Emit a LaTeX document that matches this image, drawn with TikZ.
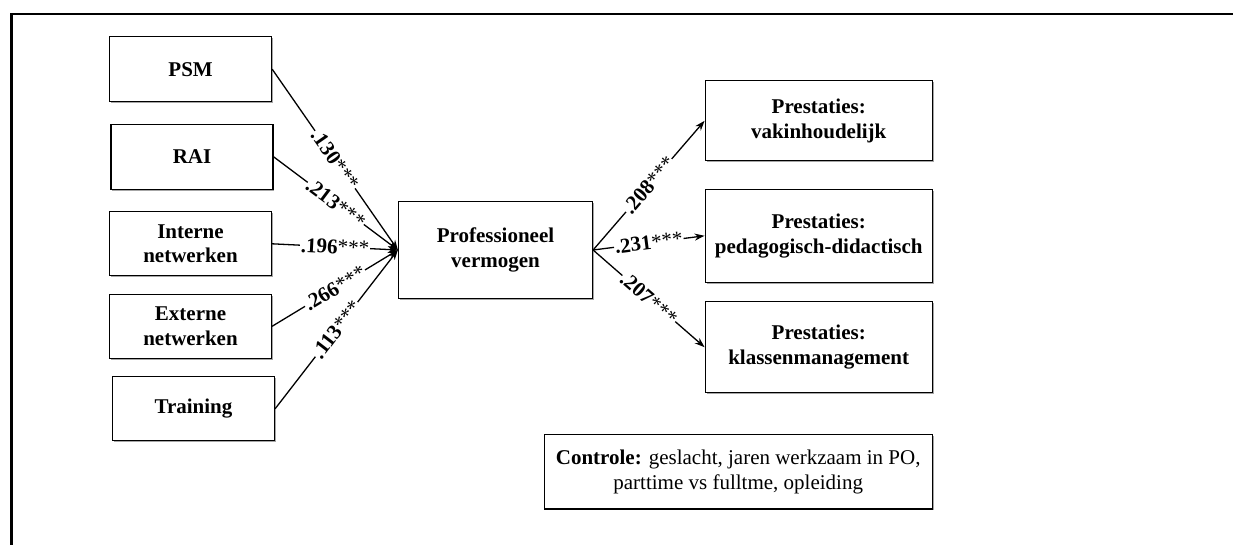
\documentclass[tikz,border=0pt]{standalone}
\usepackage{fontspec}
\setmainfont{Liberation Serif}
\usetikzlibrary{arrows.meta,shadows}

\tikzset{
  varbox/.style={draw=black, line width=1.2pt, fill=white, align=center,
    inner sep=2pt, font=\bfseries\fontsize{21}{24.5}\selectfont,
    drop shadow={shadow xshift=1.4pt, shadow yshift=-1.4pt, fill=black!35, opacity=1}},
  path/.style={draw=black, line width=1.3pt, -{Stealth[length=10pt,width=7pt]}},
  coef/.style={sloped, pos=0.5, fill=white, inner sep=0.8pt,
    font=\fontsize{21}{24}\selectfont},
}
\newcommand{\cf}[1]{\textbf{#1}***}

\begin{document}
\begin{tikzpicture}[x=1pt, y=-1pt]
  \useasboundingbox (0,0) rectangle (1233,544);
  \fill[white] (0,0) rectangle (1233,544);

  % outer frame
  \draw[line width=2.6pt] (1240,14) -- (11.3,14) -- (11.3,550);

  % predictors
  \node[varbox, minimum width=162pt, minimum height=65pt] (psm)   at (190.6,69.2)  {PSM};
  \node[varbox, minimum width=162pt, minimum height=65pt] (rai)   at (192,156.8)   {RAI};
  \node[varbox, minimum width=162pt, minimum height=64pt] (intn)  at (190.5,243.8) {Interne\\netwerken};
  \node[varbox, minimum width=162pt, minimum height=64pt] (extn)  at (190.5,326.3) {Externe\\netwerken};
  \node[varbox, minimum width=162pt, minimum height=64pt] (train) at (193.5,408.8) {Training};

  % mediator
  \node[varbox, minimum width=194pt, minimum height=96.5pt] (pv) at (495.5,250) {Professioneel\\vermogen};

  % outcomes
  \node[varbox, minimum width=227pt, minimum height=80pt] (vak)  at (818.7,120.8) {Prestaties:\\vakinhoudelijk};
  \node[varbox, minimum width=227pt, minimum height=93pt] (ped)  at (818.7,235.8) {Prestaties:\\pedagogisch-didactisch};
  \node[varbox, minimum width=227pt, minimum height=91pt] (klas) at (818.7,347.2) {Prestaties:\\klassenmanagement};

  % control variables
  \node[varbox, font=\fontsize{21}{25}\selectfont, minimum width=388pt, minimum height=74.7pt] (ctrl) at (738.2,471.7)
    {\textbf{Controle:} geslacht, jaren werkzaam in PO,\\parttime vs fulltme, opleiding};

  % paths into the mediator
  \draw[path] (psm.east)   -- node[coef] {\cf{.130}} (pv.west);
  \draw[path] (rai.east)   -- node[coef] {\cf{.213}} (pv.west);
  \draw[path] (intn.east)  -- node[coef] {\cf{.196}} (pv.west);
  \draw[path] (extn.east)  -- node[coef] {\cf{.266}} (pv.west);
  \draw[path] (train.east) -- node[coef] {\cf{.113}} (pv.west);

  % paths out of the mediator
  \draw[path] (pv.east) -- node[coef] {\cf{.208}} (vak.west);
  \draw[path] (pv.east) -- node[coef] {\cf{.231}} (ped.west);
  \draw[path] (pv.east) -- node[coef] {\cf{.207}} (klas.west);
\end{tikzpicture}
\end{document}
